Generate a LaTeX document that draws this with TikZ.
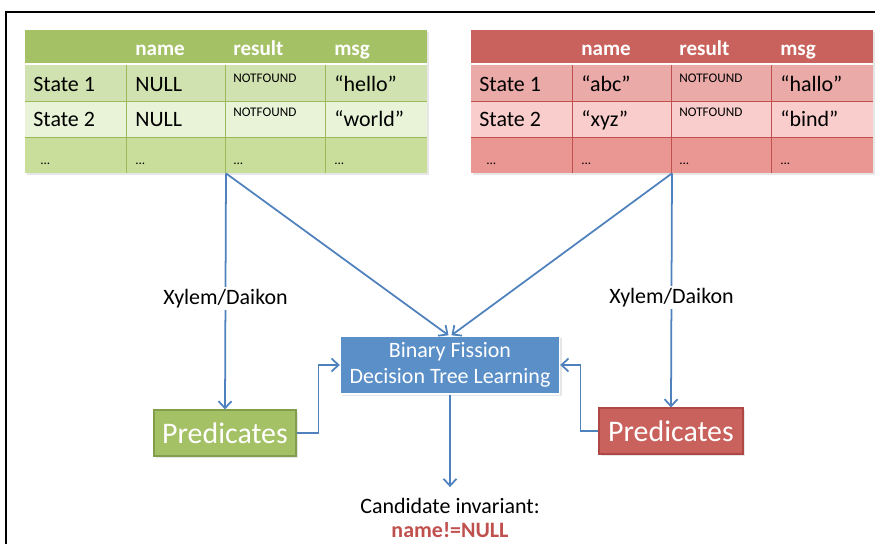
\documentclass[tikz,border=0pt]{standalone}
\usepackage{fontspec}
\setmainfont{Carlito}
\usepackage{tikz}
\usetikzlibrary{arrows.meta,positioning,shadows}
\definecolor{grnHead}{HTML}{A5C166}
\definecolor{grnRowA}{HTML}{D0E2B0}
\definecolor{grnRowB}{HTML}{E8F3D8}
\definecolor{grnRowC}{HTML}{CADE9C}
\definecolor{grnLine}{HTML}{9BB95A}
\definecolor{redHead}{HTML}{C9625C}
\definecolor{redRowA}{HTML}{E9AAA8}
\definecolor{redRowB}{HTML}{F9CDCC}
\definecolor{redRowC}{HTML}{EA9794}
\definecolor{redLine}{HTML}{C0504D}
\definecolor{blueBox}{HTML}{5B8FC8}
\definecolor{blueFlow}{HTML}{4F81BD}
\tikzset{
    outline/.style={line width=0.4mm},
    tabframe/.style={
        inner sep=0pt,
        minimum width=80.4mm,
        minimum height=28.6mm,
        drop shadow={opacity=0.2, shadow xshift=0.4mm, shadow yshift=-0.4mm}
    },
    tabhead/.style={anchor=base west, inner sep=0pt, text=white,
        font=\bfseries\fontsize{12}{14}\selectfont},
    cell/.style={anchor=base west, inner sep=0pt},
    tinycell/.style={anchor=base west, inner sep=0pt,
        font=\fontsize{7.5}{9}\selectfont},
    predbox/.style={
        draw,
        line width=0.6pt,
        minimum width=28.4mm,
        minimum height=9.2mm,
        inner sep=0pt,
        text=white,
        font=\fontsize{17}{20}\selectfont,
        drop shadow={opacity=0.2, shadow xshift=0.4mm, shadow yshift=-0.4mm}
    },
    learnbox/.style={
        draw=white,
        line width=0.8pt,
        fill=blueBox,
        text=white,
        align=center,
        minimum width=43.8mm,
        minimum height=11.6mm,
        inner sep=0pt,
        font=\fontsize{12.5}{14.7}\selectfont,
        drop shadow={opacity=0.2, shadow xshift=0.4mm, shadow yshift=-0.4mm}
    },
    tool/.style={fill=white, inner sep=1pt},
    flow/.style={-{Straight Barb[length=1.4mm, width=2.6mm]}, draw=blueFlow, line width=1pt}
}

\begin{document}
\begin{tikzpicture}[x=0.2mm, y=-0.2mm, font=\fontsize{12.5}{15}\selectfont]
    \useasboundingbox (0,0) rectangle (875,544);
    \draw[outline] (6,544) -- (6,12) -- (875,12);

    % state tables, green one and red one
    \foreach \pre/\dx/\hd/\ra/\rb/\rc/\ln/\na/\nb/\ma/\mb in {
        g/0/grnHead/grnRowA/grnRowB/grnRowC/grnLine/NULL/NULL/“hello”/“world”,
        r/446/redHead/redRowA/redRowB/redRowC/redLine/“abc”/“xyz”/“hallo”/“bind”}{
        \begin{scope}[xshift=\dx*0.2mm]
            \node[tabframe, fill=\rc] (\pre tab) at (226,101.5) {};
            \fill[\hd] (25,30) rectangle (427,64);
            \fill[\ra] (25,64) rectangle (427,101);
            \fill[\rb] (25,101) rectangle (427,137);
            \draw[\ln] (25,101) -- (427,101) (25,137) -- (427,137);
            \foreach \cx in {126,225,325}
                \draw[\ln] (\cx,64) -- (\cx,173);
            \draw[white, line width=0.4mm] (25,64) -- (427,64);
            \node[tabhead] (\pre h1) at (135,56) {name};
            \node[tabhead] (\pre h2) at (233,56) {result};
            \node[tabhead] (\pre h3) at (334,56) {msg};
            \node[cell] (\pre s1) at (33,92) {State 1};
            \node[cell] (\pre n1) at (135,92) {\na};
            \node[tinycell] (\pre f1) at (233,83) {NOTFOUND};
            \node[cell] (\pre m1) at (334,92) {\ma};
            \node[cell] (\pre s2) at (33,127) {State 2};
            \node[cell] (\pre n2) at (135,127) {\nb};
            \node[tinycell] (\pre f2) at (233,117) {NOTFOUND};
            \node[cell] (\pre m2) at (334,127) {\mb};
            \node[tinycell] (\pre d1) at (40,165) {...};
            \node[tinycell] (\pre d2) at (135,165) {...};
            \node[tinycell] (\pre d3) at (233,165) {...};
            \node[tinycell] (\pre d4) at (334,165) {...};
        \end{scope}
    }

    \node[learnbox] (learn) at (450,365) {Binary Fission\\Decision Tree Learning};
    \node[predbox, fill=grnHead, draw=grnLine!85!black] (gpred) at (225,433) {Predicates};
    \node[predbox, fill=redHead, draw=redLine!90!black, minimum width=28.8mm] (rpred) at (671,431) {Predicates};
    \node[align=center, inner sep=0pt] (inv) at (450,518)
        {Candidate invariant:\\[-1.5pt]\textcolor{redLine}{\bfseries name!=NULL}};

    \draw[flow] (gtab.south) -- node[tool, pos=0.53] (gtool) {Xylem/Daikon} (gpred.north);
    \draw[flow] (rtab.south) -- node[tool, pos=0.53] (rtool) {Xylem/Daikon} (rpred.north);
    \draw[flow] (gtab.south) -- ([xshift=-0.3mm]learn.north);
    \draw[flow] (rtab.south) -- ([xshift=0.3mm]learn.north);
    \draw[flow] (gpred.east) -- ++(22,0) |- (learn.west);
    \draw[flow] (rpred.west) -- ++(-18,0) |- (learn.east);
    \draw[flow, shorten >=2.2mm] (learn.south) -- (inv.north);
\end{tikzpicture}
\end{document}
